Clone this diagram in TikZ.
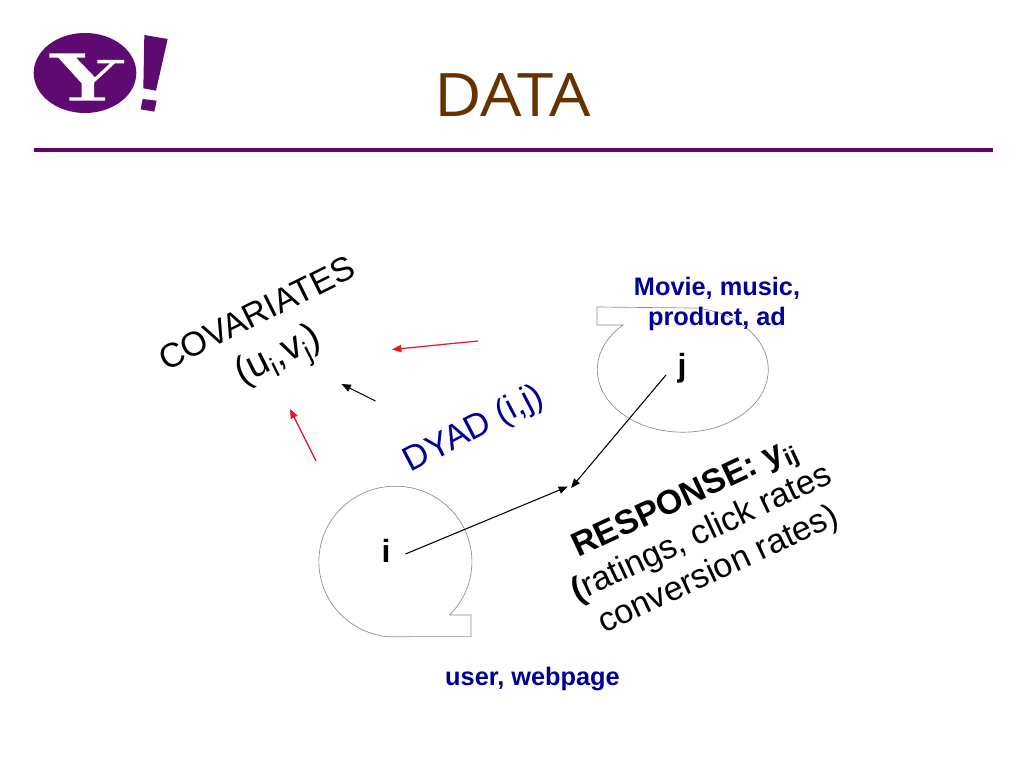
\documentclass[tikz,border=0pt]{standalone}
\usepackage{fontspec}
\setmainfont{Liberation Sans}
\newfontfamily\titlefont{Open Sans}
\usetikzlibrary{arrows.meta}
\definecolor{yahoo}{HTML}{5F0A70}
\definecolor{rulepurple}{HTML}{660066}
\definecolor{titlebrown}{HTML}{663300}
\definecolor{navy}{HTML}{000099}
\definecolor{arrowred}{HTML}{EE1122}
\tikzset{
  callout/.style={draw=black!45,line width=0.5pt},
  link/.style={draw=black,line width=0.8pt,-{Triangle[length=7pt,width=5.5pt]}},
  redlink/.style={draw=arrowred,line width=0.9pt,-{Triangle[length=7pt,width=5.5pt]}},
  label/.style={inner sep=0pt,align=center,font=\fontsize{18}{21.5}\selectfont},
  bluelabel/.style={label,text=navy,font=\fontsize{19}{23}\selectfont\bfseries},
  big/.style={label,font=\fontsize{25.5}{30}\selectfont}
}
\begin{document}
\begin{tikzpicture}[x=0.75pt,y=0.75pt]
\useasboundingbox (0,0) rectangle (1024,768);
% logo
\fill[yahoo] (85,695) ellipse[x radius=38.5pt,y radius=30pt];
\begin{scope}[shift={(20,748)},x=0.25pt,y=-0.25pt]
\fill[white] (88,100)--(195,100)--(195,113)--(168,113)--(225,172)--(270,130)--(232,130)--(232,120)--(312,120)--(312,130)--(285,130)--(222,188)--(222,232)--(255,232)--(255,242)--(148,242)--(148,232)--(185,232)--(185,190)--(115,113)--(88,113)--cycle;
\fill[yahoo] (373,45)--(443,57)--(408,212)--(370,205)--cycle;
\fill[yahoo] (368,237)--(410,242)--(403,275)--(362,268)--cycle;
\end{scope}
% title and rule
\node[inner sep=0pt,text=titlebrown,xscale=1.09,font=\titlefont\fontsize{45}{54}\selectfont] (title) at (512.5,672.5) {DATA};
\coordinate (ruleL) at (34,618);
\coordinate (ruleR) at (993,618);
\draw[rulepurple,line width=3pt] (ruleL) -- (ruleR);
% callouts
\draw[callout] (449.5,153) arc[start angle=-45,end angle=264,x radius=57.4pt,y radius=56.6pt] -- (471,131.4) -- (471,153) -- cycle;
\draw[callout] (623,443) arc[start angle=134.4,end angle=440.2,x radius=64.1pt,y radius=46.9pt] -- (597,461) -- (597,443) -- cycle;
% labels
\node[bluelabel] (movie) at (717,464) {Movie, music,\\product, ad};
\node[bluelabel] (user) at (532.5,88.5) {user, webpage};
\node[label,font=\fontsize{24}{29}\selectfont\bfseries] (j) at (682,400) {j};
\node[label,font=\fontsize{24}{29}\selectfont\bfseries] (i) at (386,217) {i};
\node[big,rotate=26.5,font=\fontsize{25.5}{35}\selectfont] (cov) at (270,428) {COVARIATES\\\fontsize{29}{35}\selectfont(u\textsubscript{i},v\textsubscript{j})};
\node[big,text=navy,rotate=27.5,font=\fontsize{26}{30}\selectfont] (dyad) at (474,338) {DYAD (i,j)};
\node[big,rotate=25] (resp) at (702,233) {\textbf{RESPONSE: y\textsubscript{ij}}\\\textbf{(}ratings, click rates\\conversion rates)};
% connector ends
\coordinate (a1s) at (478,427);
\coordinate (a1e) at (392,418.5);
\coordinate (a2s) at (375.5,367);
\coordinate (a2e) at (341.5,384);
\coordinate (a3s) at (316,307);
\coordinate (a3e) at (290,359);
\coordinate (js) at (666,393);
\coordinate (je) at (571,280);
\coordinate (is) at (405.5,214);
\coordinate (ie) at (568,281.5);
\draw[redlink] (a1s) -- (a1e);
\draw[link] (a2s) -- (a2e);
\draw[redlink] (a3s) -- (a3e);
\draw[link] (js) -- (je);
\draw[link] (is) -- (ie);
\end{tikzpicture}
\end{document}
